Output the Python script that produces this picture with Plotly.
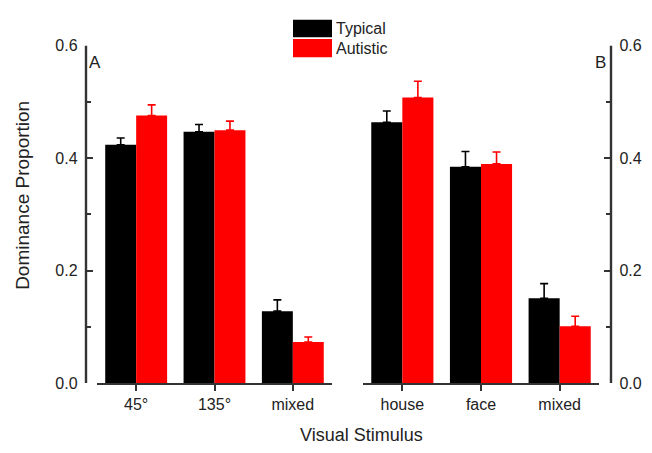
import plotly.graph_objects as go

# page is rendered with an 8px body margin: draw in coordinates shifted by -8px
OFF = 8
W, H = 652 - OFF, 453 - OFF

cats_a = ["45°", "135°", "mixed"]
cats_b = ["house", "face", "mixed"]
series = ["Typical", "Autistic"]
colors = ["#000000", "#ff0000"]

typical_a = [0.424, 0.447, 0.128]
typical_a_err = [0.012, 0.013, 0.020]
autistic_a = [0.476, 0.450, 0.073]
autistic_a_err = [0.019, 0.016, 0.009]

typical_b = [0.464, 0.385, 0.151]
typical_b_err = [0.020, 0.027, 0.026]
autistic_b = [0.508, 0.390, 0.101]
autistic_b_err = [0.029, 0.021, 0.018]

y_ticks = [0.0, 0.2, 0.4, 0.6]
y_ticktext = ["0.0", "0.2", "0.4", "0.6"]
y_range = [0.0, 0.6]


def px(x):
    return (x - OFF) / W


def py(y):
    return (H - (y - OFF)) / H


fig = go.Figure()


def add_bar(x, y, err, color, name, xa, ya):
    fig.add_trace(go.Bar(
        x=x, y=y, name=name, marker=dict(color=color, line=dict(width=0)),
        error_y=dict(type="data", array=err, arrayminus=[0] * len(err), symmetric=False,
                     color=color, thickness=1.6, width=4),
        xaxis=xa, yaxis=ya, showlegend=False,
    ))


add_bar(cats_a, typical_a, typical_a_err, colors[0], series[0], "x", "y")
add_bar(cats_a, autistic_a, autistic_a_err, colors[1], series[1], "x", "y")
add_bar(cats_b, typical_b, typical_b_err, colors[0], series[0], "x2", "y2")
add_bar(cats_b, autistic_b, autistic_b_err, colors[1], series[1], "x2", "y2")

axis_col = "#333333"
font_col = "#222222"
ydom = [py(389.7), py(39)]

xcommon = dict(showline=True, linecolor=axis_col, linewidth=1.8, ticks="outside",
               ticklen=6, tickwidth=1.8, tickcolor=axis_col, range=[-0.5, 2.5],
               showgrid=False, zeroline=False, tickfont=dict(size=16, color=font_col))
ycommon = dict(showline=True, linecolor=axis_col, linewidth=2.4, ticks="inside",
               ticklen=6, tickwidth=1.8, tickcolor=axis_col, range=y_range,
               tickvals=y_ticks, ticktext=y_ticktext, showgrid=False, zeroline=False,
               domain=ydom, anchor="free", ticklabelstandoff=4,
               minor=dict(dtick=0.1, ticks="inside", ticklen=4, tickwidth=1.8, tickcolor=axis_col),
               tickfont=dict(size=16, color=font_col))

fig.update_layout(
    width=W, height=H, autosize=False,
    margin=dict(l=0, r=0, t=0, b=0),
    paper_bgcolor="white", plot_bgcolor="white",
    barmode="group", bargap=0.21, bargroupgap=0,
    font=dict(family="Liberation Sans, Arial, sans-serif", color=font_col),
    xaxis=dict(domain=[px(97), px(332)], anchor="y", **xcommon),
    xaxis2=dict(domain=[px(363), px(599)], anchor="y2", **xcommon),
    yaxis=dict(position=px(86), side="left", **ycommon),
    yaxis2=dict(position=px(611), side="right", **ycommon),
)

# vertical axis lines as thin filled rectangles (paper-referenced, never clipped)
for xpos in [86, 611]:
    fig.add_shape(type="rect", xref="paper", yref="paper",
                  x0=px(xpos - 1.2), x1=px(xpos + 1.2), y0=ydom[0], y1=ydom[1],
                  fillcolor=axis_col, line=dict(width=0), layer="above")

# legend (drawn manually)
legend_boxes = [(12, 30), (32, 51)]
for (y0, y1), c, name in zip(legend_boxes, colors, series):
    fig.add_shape(type="rect", xref="paper", yref="paper",
                  x0=px(293), x1=px(332), y0=py(y1), y1=py(y0),
                  fillcolor=c, line=dict(width=0))
    fig.add_annotation(x=px(334), y=py((y0 + y1) / 2), xref="paper", yref="paper",
                       text=name, showarrow=False, xanchor="left", yanchor="middle",
                       font=dict(size=16, color=font_col))

# panel labels
fig.add_annotation(x=px(95), y=py(56), xref="paper", yref="paper", text="A",
                   showarrow=False, xanchor="center", yanchor="middle",
                   font=dict(size=17, color=font_col))
fig.add_annotation(x=px(600), y=py(56), xref="paper", yref="paper", text="B",
                   showarrow=False, xanchor="center", yanchor="middle",
                   font=dict(size=17, color=font_col))

# axis titles
fig.add_annotation(x=px(361), y=py(444), xref="paper", yref="paper", text="Visual Stimulus",
                   showarrow=False, xanchor="center", yanchor="middle",
                   font=dict(size=18, color=font_col))
fig.add_annotation(x=px(23), y=py(195), xref="paper", yref="paper", text="Dominance Proportion",
                   showarrow=False, textangle=-90, xanchor="center", yanchor="middle",
                   font=dict(size=19, color=font_col))

fig.write_html("out.html")
